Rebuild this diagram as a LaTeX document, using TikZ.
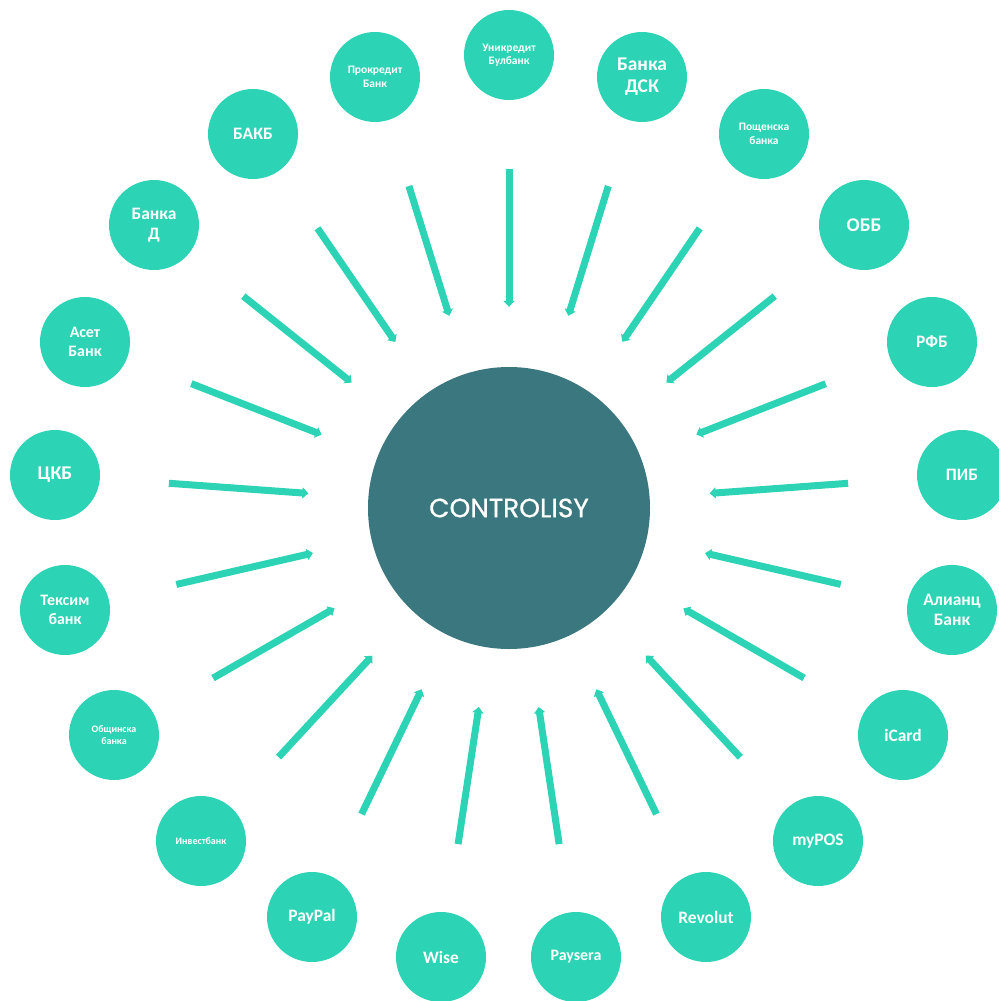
\documentclass[tikz,border=0pt]{standalone}
\usepackage{fontspec}
\newfontfamily\bankfont{Carlito}
\newfontfamily\hubfont[FakeBold=0.7]{Poppins}
\usetikzlibrary{arrows.meta}
\definecolor{bankgreen}{HTML}{2CD3B4}
\definecolor{hubteal}{HTML}{3A777E}
\tikzstyle{bank} = [circle, fill=bankgreen, text=white, minimum size=90bp, inner sep=0pt, align=center]
\tikzstyle{hub} = [circle, fill=hubteal, text=white, minimum size=282bp, inner sep=0pt, font=\hubfont\fontsize{26.5}{30}\selectfont]
\tikzstyle{bankXL} = [font=\bankfont\bfseries\fontsize{19.5}{22}\selectfont]
\tikzstyle{bankL} = [font=\bankfont\bfseries\fontsize{17.5}{20}\selectfont]
\tikzstyle{bankM} = [font=\bankfont\bfseries\fontsize{16}{18.5}\selectfont]
\tikzstyle{bankS} = [font=\bankfont\bfseries\fontsize{11.5}{13.5}\selectfont]
\tikzstyle{bankXS} = [font=\bankfont\bfseries\fontsize{10}{12}\selectfont]
\tikzstyle{feed} = [->, draw=bankgreen, line width=7bp, shorten <=69bp, shorten >=60bp]

\begin{document}
\begin{tikzpicture}[x=1bp, y=-1bp, >={Triangle[length=6bp,width=11bp]}]
	  \useasboundingbox (0,0) rectangle (999,1001);
	  \node [hub] (hub) at (509,508) {CONTROLISY};
	
	  % banks, clockwise from the top
	  \node [bank, bankS] (unicredit) at (509,55) {Уникредит\\Булбанк};
	  \node [bank, bankXL] (dsk) at (642,77) {Банка\\ДСК};
	  \node [bank, bankS] (postbank) at (764,134) {Пощенска\\банка};
	  \node [bank, bankXL] (obb) at (864,225) {ОББ};
	  \node [bank, bankL] (rfb) at (932,342) {РФБ};
	  \node [bank, bankL] (pib) at (962,475) {ПИБ};
	  \node [bank, bankL] (allianz) at (952,610) {Алианц\\Банк};
	  \node [bank, bankL] (icard) at (903,735) {iCard};
	  \node [bank, bankL] (mypos) at (818,841) {myPOS};
	  \node [bank, bankL] (revolut) at (706,917) {Revolut};
	  \node [bank, bankM] (paysera) at (576,957) {Paysera};
	  \node [bank, bankL] (wise) at (441,957) {Wise};
	  \node [bank, bankL] (paypal) at (312,917) {PayPal};
	  \node [bank, bankXS] (invest) at (201,841) {Инвестбанк};
	  \node [bank, bankXS] (obshtinska) at (114,735) {Общинска\\банка};
	  \node [bank, bankM] (texim) at (65,610) {Тексим\\банк};
	  \node [bank, bankXL] (ckb) at (55,475) {ЦКБ};
	  \node [bank, bankM] (aset) at (85,342) {Асет\\Банк};
	  \node [bank, bankL] (bankad) at (154,225) {Банка\\Д};
	  \node [bank, bankL] (bakb) at (253,134) {БАКБ};
	  \node [bank, bankS] (procredit) at (375,77) {Прокредит\\Банк};
	
	  % arrows into the hub
	  \draw [feed] (unicredit) -- (hub);
	  \draw [feed] (dsk) -- (hub);
	  \draw [feed] (postbank) -- (hub);
	  \draw [feed] (obb) -- (hub);
	  \draw [feed] (rfb) -- (hub);
	  \draw [feed] (pib) -- (hub);
	  \draw [feed] (allianz) -- (hub);
	  \draw [feed] (icard) -- (hub);
	  \draw [feed] (mypos) -- (hub);
	  \draw [feed] (revolut) -- (hub);
	  \draw [feed] (paysera) -- (hub);
	  \draw [feed] (wise) -- (hub);
	  \draw [feed] (paypal) -- (hub);
	  \draw [feed] (invest) -- (hub);
	  \draw [feed] (obshtinska) -- (hub);
	  \draw [feed] (texim) -- (hub);
	  \draw [feed] (ckb) -- (hub);
	  \draw [feed] (aset) -- (hub);
	  \draw [feed] (bankad) -- (hub);
	  \draw [feed] (bakb) -- (hub);
	  \draw [feed] (procredit) -- (hub);
	\end{tikzpicture}
\end{document}
